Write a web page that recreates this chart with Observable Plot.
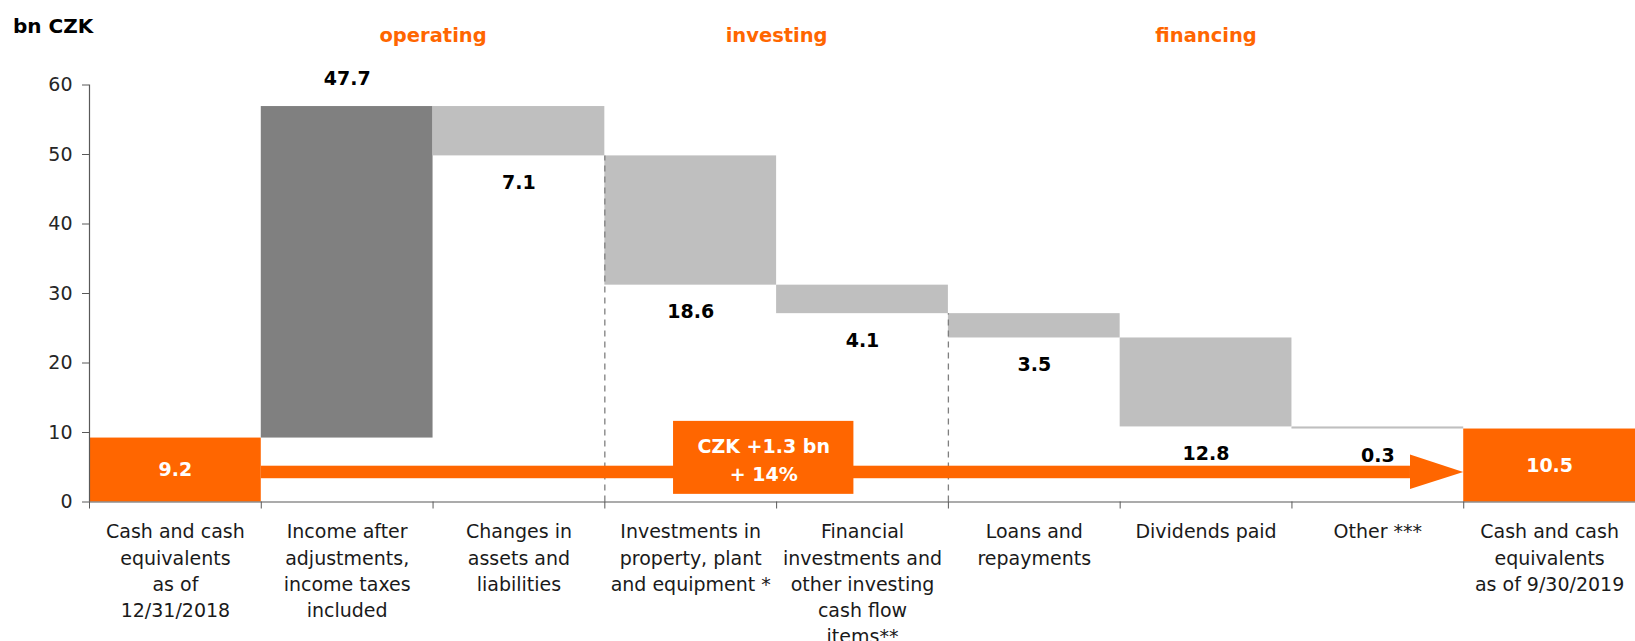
<!DOCTYPE html>
<html><head><meta charset="utf-8">
<script src="https://cdn.jsdelivr.net/npm/d3@7"></script>
<script src="https://cdn.jsdelivr.net/npm/@observablehq/plot@0.6"></script>
<style>html,body{margin:0;padding:0;background:#fff;}</style>
</head><body><div id="chart"></div>
<script>
// ---- data ----
const categories = [
  "Cash and cash\nequivalents\nas of\n12/31/2018",
  "Income after\nadjustments,\nincome taxes\nincluded",
  "Changes in\nassets and\nliabilities",
  "Investments in\nproperty, plant\nand equipment *",
  "Financial\ninvestments and\nother investing\ncash flow\nitems**",
  "Loans and\nrepayments",
  "Dividends paid",
  "Other ***",
  "Cash and cash\nequivalents\nas of 9/30/2019"
];
const values = [9.2, 47.7, -7.1, -18.6, -4.1, -3.5, -12.8, -0.3, 10.5];
const kinds = ["total", "income", "change", "change", "change", "change", "change", "change", "total"];
const yTicks = [0, 10, 20, 30, 40, 50, 60];
const sections = ["operating", "investing", "financing"];
const sectionStart = [1, 3, 5];
const sectionEnd = [3, 5, 8];
const dividers = [3, 5];
const changeText = "CZK +1.3 bn\n+ 14%";
const unitLabel = "bn CZK";
// annotation extents, in the chart's own units (category index / bn CZK)
const arrowStart = 1, arrowHeadBase = 7.69, arrowTip = 8;
const arrowBand = [3.35, 5.15];
const arrowHeadSpan = [1.8, 6.75];
const boxSpanX = [3.4, 4.45];
const boxSpanY = [1.1, 11.6];

// ---- derived table ----
const ORANGE = "#FF6600";
const fillFor = {total: ORANGE, income: "#808080", change: "#BFBFBF"};
let run = 0;
const rows = values.map((v, i) => {
  let y1, y2;
  if (kinds[i] === "total") { y1 = 0; y2 = v; run = v; }
  else { y1 = run; y2 = +(run + v).toFixed(2); run = y2; }
  return {i, v, kind: kinds[i], y1, y2, lo: Math.min(y1, y2), hi: Math.max(y1, y2), label: Math.abs(v).toFixed(1)};
});
const divRows = dividers.map(d => ({x: d, top: rows[d - 1].y2}));
const secRows = sections.map((s, k) => ({s, x: (sectionStart[k] + sectionEnd[k]) / 2}));
const mid = (arrowBand[0] + arrowBand[1]) / 2;
const headPts = [
  {x: arrowHeadBase, lo: arrowHeadSpan[0], hi: arrowHeadSpan[1]},
  {x: arrowTip, lo: mid, hi: mid}
];

const font = "DejaVu Sans";
const chart = Plot.plot({
  width: 1635, height: 641,
  marginLeft: 89, marginRight: 0, marginTop: 84.5, marginBottom: 139.5,
  style: {fontFamily: font, background: "#fff", color: "#1a1a1a"},
  x: {type: "linear", domain: [0, 9]},
  y: {domain: [0, 60]},
  marks: [
    // bars
    Plot.rectY(rows, {x1: d => d.i, x2: d => d.i + 1, y1: "y1", y2: "y2", fill: d => fillFor[d.kind]}),
    // dividers
    Plot.ruleX(divRows, {x: "x", y1: 0, y2: "top", stroke: "#7f7f7f", strokeDasharray: "6,5", strokeWidth: 1.3}),
    // arrow band + head
    Plot.rect([0], {x1: arrowStart, x2: arrowHeadBase, y1: arrowBand[0], y2: arrowBand[1], fill: ORANGE}),
    Plot.areaY(headPts, {x: "x", y1: "lo", y2: "hi", fill: ORANGE}),
    // change box
    Plot.rect([0], {x1: boxSpanX[0], x2: boxSpanX[1], y1: boxSpanY[0], y2: boxSpanY[1], fill: ORANGE}),
    Plot.text([changeText], {x: (boxSpanX[0] + boxSpanX[1]) / 2, y: (boxSpanY[0] + boxSpanY[1]) / 2,
      text: d => d, fill: "white", fontWeight: "bold", fontSize: 19, lineHeight: 1.47}),
    // axes
    Plot.ruleY([0], {stroke: "#595959", strokeWidth: 1.2}),
    Plot.ruleX([0], {y1: 0, y2: 60, stroke: "#595959", strokeWidth: 1.2}),
    Plot.axisY({ticks: yTicks, tickSize: 7, tickPadding: 10, fontSize: 19, label: null, stroke: "#595959", fill: "#262626"}),
    Plot.axisX({ticks: d3.range(0, 10), tickFormat: () => "", tickSize: 7, label: null, stroke: "#595959"}),
    // category labels
    Plot.text(categories, {x: (d, i) => i + 0.5, y: 0, text: d => d, lineAnchor: "top", dy: 18,
      fontSize: 19, lineHeight: 1.37, fill: "#1a1a1a"}),
    // value labels
    Plot.text(rows.filter(d => d.kind === "total"), {x: d => d.i + 0.5, y: d => d.v / 2, text: "label",
      fill: "white", fontWeight: "bold", fontSize: 19}),
    Plot.text(rows.filter(d => d.kind === "income"), {x: d => d.i + 0.5, y: "hi", text: "label",
      dy: -28, fill: "#000", fontWeight: "bold", fontSize: 19}),
    Plot.text(rows.filter(d => d.kind === "change"), {x: d => d.i + 0.5, y: "lo", text: "label",
      dy: 27, fill: "#000", fontWeight: "bold", fontSize: 19}),
    // section headers
    Plot.text(secRows, {x: "x", frameAnchor: "top", lineAnchor: "middle", dy: -49, text: "s", fill: ORANGE, fontWeight: "bold", fontSize: 19.5}),
    // unit label
    Plot.text([unitLabel], {frameAnchor: "top-left", textAnchor: "start", lineAnchor: "middle", dx: -76.5, dy: -58.5, text: d => d,
      fontWeight: "bold", fontSize: 20, fill: "#000"})
  ]
});
document.getElementById("chart").append(chart);
</script>
</body></html>
